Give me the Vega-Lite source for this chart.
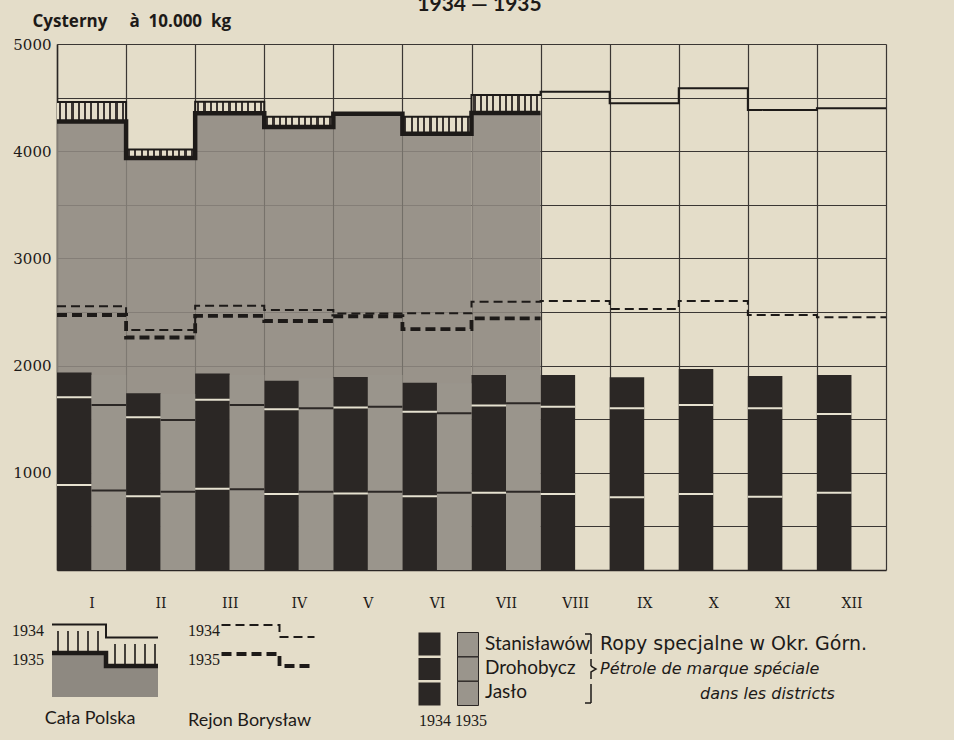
{
  "$schema": "https://vega.github.io/schema/vega-lite/v6.json",
  "width": 829,
  "height": 526,
  "autosize": {"type": "none"},
  "padding": {"left": 57, "top": 44, "right": 68, "bottom": 170},
  "background": "#e4ddc9",
  "config": {
    "view": {"stroke": null},
    "legend": {"padding": 0, "labelColor": "#1d1a18", "titleColor": "#1d1a18", "labelFont": "Lato", "symbolStrokeColor": "#1d1a18", "labelLimit": 0}
  },
  "title": {"text": "1934 — 1935", "font": "Lato", "fontSize": 21, "fontWeight": "bold", "offset": -3, "dx": 8, "color": "#1d1a18", "anchor": "middle"},
  "datasets": {
    "totals": [
      {"m": 1, "cp1934": 4459, "cp1935": 4277, "rb1934": 2553, "rb1935": 2472},
      {"m": 2, "cp1934": 4015, "cp1935": 3937, "rb1934": 2332, "rb1935": 2262},
      {"m": 3, "cp1934": 4462, "cp1935": 4353, "rb1934": 2558, "rb1935": 2463},
      {"m": 4, "cp1934": 4322, "cp1935": 4226, "rb1934": 2519, "rb1935": 2416},
      {"m": 5, "cp1934": 4340, "cp1935": 4350, "rb1934": 2486, "rb1935": 2460},
      {"m": 6, "cp1934": 4322, "cp1935": 4163, "rb1934": 2488, "rb1935": 2341},
      {"m": 7, "cp1934": 4524, "cp1935": 4356, "rb1934": 2596, "rb1935": 2441},
      {"m": 8, "cp1934": 4555, "cp1935": null, "rb1934": 2603, "rb1935": null},
      {"m": 9, "cp1934": 4447, "cp1935": null, "rb1934": 2528, "rb1935": null},
      {"m": 10, "cp1934": 4587, "cp1935": null, "rb1934": 2603, "rb1935": null},
      {"m": 11, "cp1934": 4384, "cp1935": null, "rb1934": 2472, "rb1935": null},
      {"m": 12, "cp1934": 4400, "cp1935": null, "rb1934": 2451, "rb1935": null}
    ],
    "bars": [
      {"m": 1, "year": "1934", "district": "Jasło", "v": 886},
      {"m": 1, "year": "1934", "district": "Drohobycz", "v": 818},
      {"m": 1, "year": "1934", "district": "Stanisławów", "v": 232},
      {"m": 2, "year": "1934", "district": "Jasło", "v": 781},
      {"m": 2, "year": "1934", "district": "Drohobycz", "v": 737},
      {"m": 2, "year": "1934", "district": "Stanisławów", "v": 224},
      {"m": 3, "year": "1934", "district": "Jasło", "v": 852},
      {"m": 3, "year": "1934", "district": "Drohobycz", "v": 830},
      {"m": 3, "year": "1934", "district": "Stanisławów", "v": 244},
      {"m": 4, "year": "1934", "district": "Jasło", "v": 802},
      {"m": 4, "year": "1934", "district": "Drohobycz", "v": 790},
      {"m": 4, "year": "1934", "district": "Stanisławów", "v": 267},
      {"m": 5, "year": "1934", "district": "Jasło", "v": 807},
      {"m": 5, "year": "1934", "district": "Drohobycz", "v": 802},
      {"m": 5, "year": "1934", "district": "Stanisławów", "v": 285},
      {"m": 6, "year": "1934", "district": "Jasło", "v": 781},
      {"m": 6, "year": "1934", "district": "Drohobycz", "v": 789},
      {"m": 6, "year": "1934", "district": "Stanisławów", "v": 270},
      {"m": 7, "year": "1934", "district": "Jasło", "v": 813},
      {"m": 7, "year": "1934", "district": "Drohobycz", "v": 815},
      {"m": 7, "year": "1934", "district": "Stanisławów", "v": 284},
      {"m": 8, "year": "1934", "district": "Jasło", "v": 802},
      {"m": 8, "year": "1934", "district": "Drohobycz", "v": 815},
      {"m": 8, "year": "1934", "district": "Stanisławów", "v": 295},
      {"m": 9, "year": "1934", "district": "Jasło", "v": 771},
      {"m": 9, "year": "1934", "district": "Drohobycz", "v": 831},
      {"m": 9, "year": "1934", "district": "Stanisławów", "v": 289},
      {"m": 10, "year": "1934", "district": "Jasło", "v": 802},
      {"m": 10, "year": "1934", "district": "Drohobycz", "v": 830},
      {"m": 10, "year": "1934", "district": "Stanisławów", "v": 336},
      {"m": 11, "year": "1934", "district": "Jasło", "v": 777},
      {"m": 11, "year": "1934", "district": "Drohobycz", "v": 825},
      {"m": 11, "year": "1934", "district": "Stanisławów", "v": 301},
      {"m": 12, "year": "1934", "district": "Jasło", "v": 814},
      {"m": 12, "year": "1934", "district": "Drohobycz", "v": 735},
      {"m": 12, "year": "1934", "district": "Stanisławów", "v": 363},
      {"m": 1, "year": "1935", "district": "Jasło", "v": 835},
      {"m": 1, "year": "1935", "district": "Drohobycz", "v": 797},
      {"m": 1, "year": "1935", "district": "Stanisławów", "v": 280},
      {"m": 2, "year": "1935", "district": "Jasło", "v": 824},
      {"m": 2, "year": "1935", "district": "Drohobycz", "v": 669},
      {"m": 2, "year": "1935", "district": "Stanisławów", "v": 242},
      {"m": 3, "year": "1935", "district": "Jasło", "v": 846},
      {"m": 3, "year": "1935", "district": "Drohobycz", "v": 786},
      {"m": 3, "year": "1935", "district": "Stanisławów", "v": 280},
      {"m": 4, "year": "1935", "district": "Jasło", "v": 824},
      {"m": 4, "year": "1935", "district": "Drohobycz", "v": 778},
      {"m": 4, "year": "1935", "district": "Stanisławów", "v": 280},
      {"m": 5, "year": "1935", "district": "Jasło", "v": 824},
      {"m": 5, "year": "1935", "district": "Drohobycz", "v": 793},
      {"m": 5, "year": "1935", "district": "Stanisławów", "v": 295},
      {"m": 6, "year": "1935", "district": "Jasło", "v": 814},
      {"m": 6, "year": "1935", "district": "Drohobycz", "v": 741},
      {"m": 6, "year": "1935", "district": "Stanisławów", "v": 280},
      {"m": 7, "year": "1935", "district": "Jasło", "v": 824},
      {"m": 7, "year": "1935", "district": "Drohobycz", "v": 824},
      {"m": 7, "year": "1935", "district": "Stanisławów", "v": 311}
    ]
  },
  "resolve": {"scale": {"strokeWidth": "independent", "strokeDash": "independent", "opacity": "independent"}},
  "layer": [
    {
      "data": {"name": "totals"},
      "transform": [
        {"filter": "datum.cp1935 != null"},
        {"calculate": "datum.m - 1", "as": "mx0"}
      ],
      "mark": {"type": "rect", "fill": "#8e8981", "fillOpacity": 0.88, "strokeWidth": 0},
      "encoding": {
        "x": {
          "field": "mx0", "type": "quantitative",
          "scale": {"domain": [0, 12], "nice": false, "zero": false},
          "axis": {
            "values": [0, 1, 2, 3, 4, 5, 6, 7, 8, 9, 10, 11, 12],
            "labelExpr": "['I','II','III','IV','V','VI','VII','VIII','IX','X','XI','XII',''][datum.value]",
            "labelOffset": 34.54, "labelFlush": false, "labelOverlap": false, "labelBound": false,
            "labelFont": "DejaVu Serif", "labelFontSize": 14, "labelColor": "#1d1a18", "labelPadding": 26,
            "ticks": false, "grid": true, "gridColor": "#3a3633", "gridWidth": 1.2,
            "domain": true, "domainColor": "#2a2624", "domainWidth": 1.5, "title": null
          }
        },
        "x2": {"field": "m"},
        "y": {
          "field": "cp1935", "type": "quantitative",
          "scale": {"domain": [93, 5000], "nice": false, "zero": false, "clamp": true},
          "axis": {
            "values": [500, 1000, 1500, 2000, 2500, 3000, 3500, 4000, 4500, 5000],
            "labelExpr": "datum.value % 1000 === 0 ? format(datum.value, 'd') : ''",
            "labelFont": "DejaVu Serif", "labelFontSize": 15, "labelColor": "#1d1a18", "labelPadding": 6,
            "labelFlush": false, "labelOverlap": false, "labelBound": false,
            "ticks": false, "grid": true, "gridColor": "#3a3633", "gridWidth": 1.2,
            "domain": true, "domainColor": "#2a2624", "domainWidth": 1.5,
            "title": "Cysterny\u00a0\u00a0\u00a0\u00a0\u00a0à\u00a0\u00a010.000\u00a0\u00a0kg", "titleAngle": 0, "titleX": -25, "titleY": -18,
            "titleAlign": "left", "titleBaseline": "alphabetic", "titleFont": "Open Sans", "titleFontSize": 17,
            "titleFontWeight": "bold", "titleColor": "#1d1a18"
          }
        },
        "y2": {"datum": 0},
        "opacity": {
          "datum": "patch", "type": "nominal",
          "scale": {"domain": ["patch"], "range": [1, 1]},
          "legend": {
            "orient": "none", "legendX": 38, "legendY": 621.5, "title": null, "labelExpr": "''",
            "symbolSize": 400, "symbolType": "M-5.3,-2.15H0.2V-0.85H5.3V2.15H-5.3Z",
            "symbolFillColor": "#9a958c", "symbolStrokeWidth": 0, "symbolStrokeColor": "transparent"
          }
        }
      }
    },
    {
      "data": {"name": "totals"},
      "transform": [
        {"filter": "datum.cp1935 != null && datum.cp1934 > datum.cp1935"},
        {"calculate": "datum.m - 1", "as": "mx0"}
      ],
      "mark": {
        "type": "rect",
        "fill": {
          "gradient": "linear", "x1": 0, "y1": 0, "x2": 1, "y2": 0,
          "stops": [
            {"offset": 0, "color": "#e4ddc9"},
            {"offset": 0.0273, "color": "#e4ddc9"}, {"offset": 0.0273, "color": "#3a3431"}, {"offset": 0.0591, "color": "#3a3431"}, {"offset": 0.0591, "color": "#e4ddc9"},
            {"offset": 0.1182, "color": "#e4ddc9"}, {"offset": 0.1182, "color": "#3a3431"}, {"offset": 0.15, "color": "#3a3431"}, {"offset": 0.15, "color": "#e4ddc9"},
            {"offset": 0.2091, "color": "#e4ddc9"}, {"offset": 0.2091, "color": "#3a3431"}, {"offset": 0.2409, "color": "#3a3431"}, {"offset": 0.2409, "color": "#e4ddc9"},
            {"offset": 0.3, "color": "#e4ddc9"}, {"offset": 0.3, "color": "#3a3431"}, {"offset": 0.3318, "color": "#3a3431"}, {"offset": 0.3318, "color": "#e4ddc9"},
            {"offset": 0.3909, "color": "#e4ddc9"}, {"offset": 0.3909, "color": "#3a3431"}, {"offset": 0.4227, "color": "#3a3431"}, {"offset": 0.4227, "color": "#e4ddc9"},
            {"offset": 0.4818, "color": "#e4ddc9"}, {"offset": 0.4818, "color": "#3a3431"}, {"offset": 0.5136, "color": "#3a3431"}, {"offset": 0.5136, "color": "#e4ddc9"},
            {"offset": 0.5728, "color": "#e4ddc9"}, {"offset": 0.5728, "color": "#3a3431"}, {"offset": 0.6046, "color": "#3a3431"}, {"offset": 0.6046, "color": "#e4ddc9"},
            {"offset": 0.6637, "color": "#e4ddc9"}, {"offset": 0.6637, "color": "#3a3431"}, {"offset": 0.6955, "color": "#3a3431"}, {"offset": 0.6955, "color": "#e4ddc9"},
            {"offset": 0.7546, "color": "#e4ddc9"}, {"offset": 0.7546, "color": "#3a3431"}, {"offset": 0.7864, "color": "#3a3431"}, {"offset": 0.7864, "color": "#e4ddc9"},
            {"offset": 0.8455, "color": "#e4ddc9"}, {"offset": 0.8455, "color": "#3a3431"}, {"offset": 0.8773, "color": "#3a3431"}, {"offset": 0.8773, "color": "#e4ddc9"},
            {"offset": 0.9364, "color": "#e4ddc9"}, {"offset": 0.9364, "color": "#3a3431"}, {"offset": 0.9682, "color": "#3a3431"}, {"offset": 0.9682, "color": "#e4ddc9"},
            {"offset": 1, "color": "#e4ddc9"}
          ]
        }
      },
      "encoding": {
        "x": {"field": "mx0", "type": "quantitative"},
        "x2": {"field": "m"},
        "y": {"field": "cp1934", "type": "quantitative"},
        "y2": {"field": "cp1935"}
      }
    },
    {
      "data": {"name": "bars"},
      "transform": [
        {"calculate": "indexof(['Jasło','Drohobycz','Stanisławów'], datum.district)", "as": "o"},
        {"stack": "v", "groupby": ["m", "year"], "sort": [{"field": "o", "order": "ascending"}], "as": ["v0", "v1"]},
        {"calculate": "datum.m - 1 + (datum.year == '1935' ? 0.5 : 0)", "as": "bx0"},
        {"calculate": "datum.bx0 + 0.5", "as": "bx1"}
      ],
      "mark": {"type": "rect", "strokeWidth": 0},
      "encoding": {
        "x": {"field": "bx0", "type": "quantitative"},
        "x2": {"field": "bx1"},
        "y": {"field": "v1", "type": "quantitative"},
        "y2": {"field": "v0"},
        "fill": {
          "field": "year", "type": "nominal",
          "scale": {"domain": ["1934", "1935"], "range": ["#2b2725", "#9a958c"]},
          "legend": {
            "orient": "none", "legendX": 362, "legendY": 614.5, "direction": "horizontal",
            "title": "1934 1935", "titleOrient": "bottom", "titleAnchor": "start",
            "titleFont": "Liberation Serif", "titleFontSize": 16, "titleFontWeight": "normal", "titlePadding": 5,
            "labelExpr": "''", "labelOffset": 0, "columnPadding": 12.5, "symbolSize": 400,
            "encode": {"symbols": {"update": {
              "shape": {"signal": "datum.value == '1934' ? 'M-1.1,-3.65H1.1V-1.34H-1.1Z M-1.1,-1.1H1.1V1.1H-1.1Z M-1.1,1.34H1.1V3.65H-1.1Z' : 'M-1.05,-3.65H1.05V-1.22H-1.05Z M-1.05,-1.22H1.05V1.22H-1.05Z M-1.05,1.22H1.05V3.65H-1.05Z'"},
              "fill": {"signal": "datum.value == '1934' ? '#2b2725' : '#9a958c'"},
              "stroke": {"signal": "datum.value == '1934' ? 'transparent' : '#2b2725'"},
              "strokeWidth": {"value": 1}
            }}}
          }
        },
        "stroke": {
          "field": "district", "type": "nominal",
          "scale": {"domain": ["Stanisławów", "Drohobycz", "Jasło"], "range": ["#2b2725", "#2b2725", "#2b2725"]},
          "legend": {
            "orient": "none", "legendX": 406, "legendY": 589, "title": null,
            "labelFont": "Lato", "labelFontSize": 19, "labelOffset": 0, "symbolSize": 400, "rowPadding": 3,
            "symbolOpacity": 0, "symbolFillColor": "transparent", "symbolStrokeColor": "transparent"
          }
        }
      }
    },
    {
      "data": {"name": "bars"},
      "transform": [
        {"calculate": "indexof(['Jasło','Drohobycz','Stanisławów'], datum.district)", "as": "o"},
        {"stack": "v", "groupby": ["m", "year"], "sort": [{"field": "o", "order": "ascending"}], "as": ["v0", "v1"]},
        {"filter": "datum.district != 'Stanisławów'"},
        {"calculate": "datum.m - 1 + (datum.year == '1935' ? 0.5 : 0)", "as": "bx0"},
        {"calculate": "datum.bx0 + 0.5", "as": "bx1"}
      ],
      "mark": {"type": "rule", "strokeWidth": 2},
      "encoding": {
        "x": {"field": "bx0", "type": "quantitative"},
        "x2": {"field": "bx1"},
        "y": {"field": "v1", "type": "quantitative"},
        "stroke": {"condition": {"test": "datum.year == '1934'", "value": "#e6e1d0"}, "value": "#2b2725"}
      }
    },
    {
      "data": {"name": "totals"},
      "transform": [
        {"fold": ["cp1934", "cp1935"], "as": ["series", "v"]},
        {"filter": "datum.v != null"},
        {"calculate": "[0, 1]", "as": "e"},
        {"flatten": ["e"]},
        {"calculate": "datum.m - 1 + datum.e", "as": "xs"},
        {"calculate": "datum.m * 2 + datum.e", "as": "ord"}
      ],
      "mark": {"type": "line", "color": "#1d1a18", "strokeJoin": "miter", "strokeCap": "butt"},
      "encoding": {
        "x": {"field": "xs", "type": "quantitative"},
        "y": {"field": "v", "type": "quantitative"},
        "order": {"field": "ord", "type": "quantitative"},
        "detail": {"field": "series", "type": "nominal"},
        "strokeWidth": {
          "field": "series", "type": "nominal",
          "scale": {"domain": ["cp1934", "cp1935"], "range": [2, 4.5]},
          "legend": {
            "orient": "none", "legendX": -45, "legendY": 576,
            "title": "Cała Polska", "titleOrient": "bottom", "titleAnchor": "middle",
            "titleFont": "Lato", "titleFontSize": 18, "titleFontWeight": "normal", "titlePadding": 35,
            "labelExpr": "datum.value == 'cp1934' ? '1934' : '1935'",
            "labelFont": "Liberation Serif", "labelFontSize": 16, "symbolSize": 400, "rowPadding": 2,
            "encode": {
              "symbols": {"update": {
                "shape": {"value": "M-5.3,-0.65H0.1V0.65H5.3"},
                "x": {"value": 93}, "fill": {"value": "transparent"}, "stroke": {"value": "#1d1a18"}
              }},
              "labels": {"update": {"x": {"value": 0}, "align": {"value": "left"}}}
            }
          }
        },
        "opacity": {
          "datum": "hatch", "type": "nominal",
          "scale": {"domain": ["hatch"], "range": [1, 1]},
          "legend": {
            "orient": "none", "legendX": 38, "legendY": 576, "title": null, "labelExpr": "''",
            "symbolSize": 400,
            "symbolType": "M-4.8,0V2.2M-3.8,0V2.2M-2.8,0V2.2M-1.8,0V2.2M-0.8,0V2.2M0.9,1.3V3.5M1.9,1.3V3.5M2.9,1.3V3.5M3.9,1.3V3.5M4.9,1.3V3.5",
            "symbolStrokeColor": "#1d1a18", "symbolFillColor": "transparent", "symbolStrokeWidth": 1.6,
            "encode": {"symbols": {"update": {
              "shape": {"value": "M-4.8,0V2.2M-3.8,0V2.2M-2.8,0V2.2M-1.8,0V2.2M-0.8,0V2.2M0.9,1.3V3.5M1.9,1.3V3.5M2.9,1.3V3.5M3.9,1.3V3.5M4.9,1.3V3.5"},
              "stroke": {"value": "#1d1a18"}, "strokeWidth": {"value": 1.6}, "fill": {"value": "transparent"}, "opacity": {"value": 1}
            }}}
          }
        },
        "strokeDash": {
          "datum": "Stanisławów", "type": "nominal",
          "scale": {"domain": ["Stanisławów", "Drohobycz", "Jasło"], "range": [[1, 0], [1, 0], [1, 0]]},
          "legend": {
            "orient": "none", "legendX": 523, "legendY": 589, "title": null,
            "labelFont": "DejaVu Sans", "labelFontSize": 19, "labelOffset": -2, "symbolSize": 400, "rowPadding": -1,
            "labelExpr": "datum.value == 'Stanisławów' ? 'Ropy specjalne w Okr. Górn.' : datum.value == 'Drohobycz' ? 'Pétrole de marque spéciale' : 'dans les districts'",
            "encode": {
              "symbols": {"update": {
                "opacity": {"value": 1},
                "shape": {"signal": "datum.value == 'Stanisławów' ? 'M-0.6,-1.0H0V1.0' : datum.value == 'Drohobycz' ? 'M0,-1.0V-0.3L0.5,0L0,0.3V1.0' : 'M0,-1.0V0.9H-0.6'"},
                "fill": {"value": "transparent"}, "stroke": {"value": "#1d1a18"}, "strokeWidth": {"value": 1.5}, "strokeDash": {"value": [1, 0]}
              }},
              "labels": {"update": {
                "fontStyle": {"signal": "datum.value == 'Stanisławów' ? 'normal' : 'italic'"},
                "fontSize": {"signal": "datum.value == 'Stanisławów' ? 19 : 16"},
                "dx": {"signal": "datum.value == 'Jasło' ? 100 : 0"}
              }}
            }
          }
        }
      }
    },
    {
      "data": {"name": "totals"},
      "transform": [
        {"fold": ["rb1934", "rb1935"], "as": ["series", "v"]},
        {"filter": "datum.v != null"},
        {"calculate": "[0, 1]", "as": "e"},
        {"flatten": ["e"]},
        {"calculate": "datum.m - 1 + datum.e", "as": "xs"},
        {"calculate": "datum.m * 2 + datum.e", "as": "ord"}
      ],
      "mark": {"type": "line", "color": "#1d1a18", "strokeJoin": "miter", "strokeCap": "butt"},
      "encoding": {
        "x": {"field": "xs", "type": "quantitative"},
        "y": {"field": "v", "type": "quantitative"},
        "order": {"field": "ord", "type": "quantitative"},
        "detail": {"field": "series", "type": "nominal"},
        "strokeWidth": {
          "field": "series", "type": "nominal",
          "scale": {"domain": ["rb1934", "rb1935"], "range": [2, 3.8]},
          "legend": null
        },
        "strokeDash": {
          "field": "series", "type": "nominal",
          "scale": {"domain": ["rb1934", "rb1935"], "range": [[9, 5], [10, 5]]},
          "legend": {
            "orient": "none", "legendX": 131, "legendY": 576,
            "title": "Rejon Borysław", "titleOrient": "bottom", "titleAnchor": "start",
            "titleFont": "Lato", "titleFontSize": 18, "titleFontWeight": "normal", "titlePadding": 38,
            "labelExpr": "datum.value == 'rb1934' ? '1934' : '1935'",
            "labelFont": "Liberation Serif", "labelFontSize": 16, "symbolSize": 400, "rowPadding": 5,
            "symbolType": "M-4.65,-0.6H1.15V0.6H4.65",
            "encode": {
              "symbols": {"update": {"x": {"value": 80}, "fill": {"value": "transparent"}, "stroke": {"value": "#1d1a18"}, "strokeWidth": {"signal": "datum.value == 'rb1934' ? 2 : 3.8"}}},
              "labels": {"update": {"x": {"value": 0}, "align": {"value": "left"}}}
            }
          }
        }
      }
    }
  ]
}
